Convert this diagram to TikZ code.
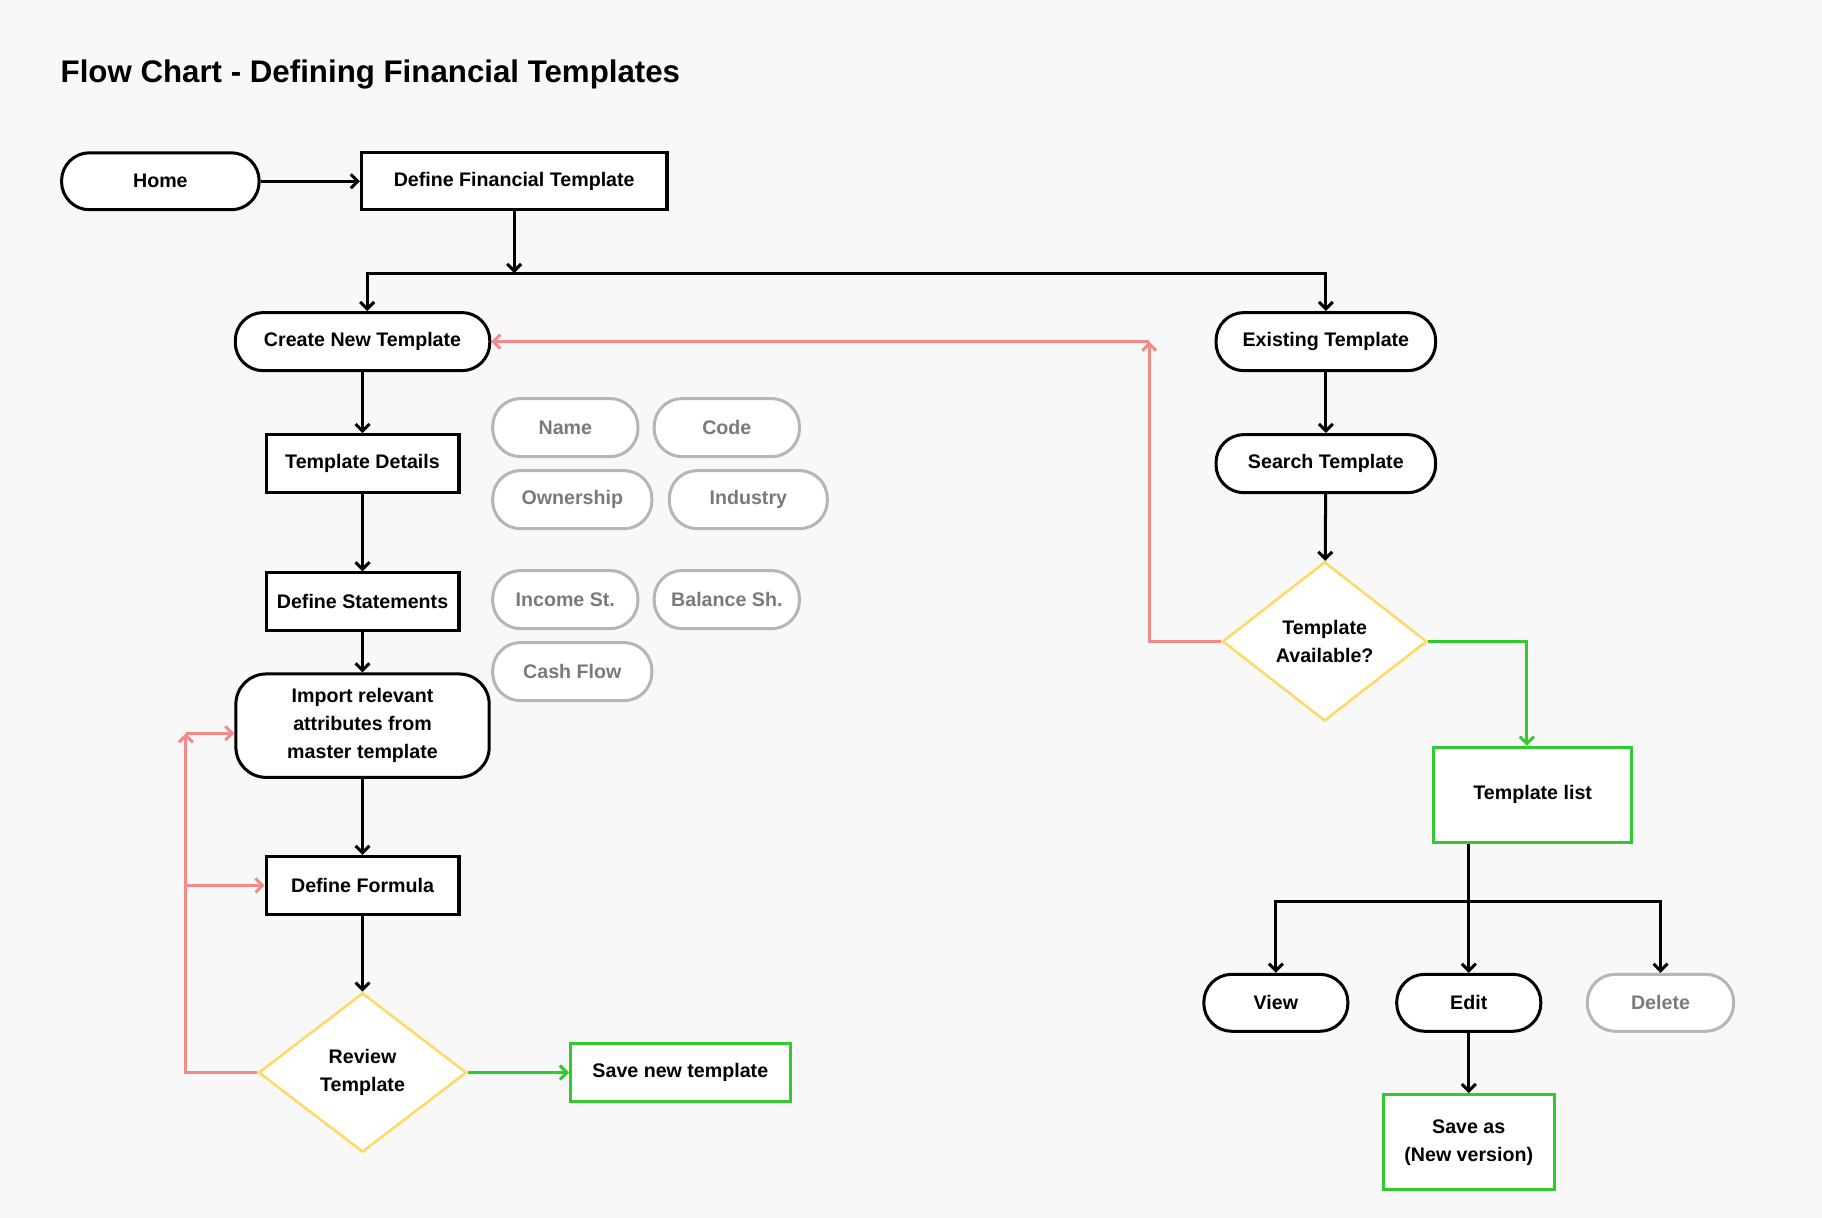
\documentclass[tikz,border=0pt]{standalone}
\usepackage{fontspec}
\setmainfont{Liberation Sans}
\usetikzlibrary{shapes.geometric,arrows.meta}
\definecolor{bg}{RGB}{248,248,248}
\definecolor{loopred}{RGB}{243,138,138}
\definecolor{okgreen}{RGB}{46,204,46}
\definecolor{askyellow}{RGB}{255,217,102}
\definecolor{taggray}{RGB}{182,182,182}
\definecolor{tagtext}{RGB}{122,122,122}
\begin{document}
\begin{tikzpicture}[x=1pt,y=-1pt,
	>={Straight Barb[length=6pt,width=12pt]},
	every node/.style={font=\fontsize{16.9}{24}\selectfont\bfseries, inner sep=0pt, align=center},
	box/.style={draw, line width=2.6pt, fill=white, minimum height=50pt},
	pill/.style={box, rounded corners=24pt},
	okbox/.style={box, draw=okgreen},
	tag/.style={pill, draw=taggray, text=tagtext},
	decision/.style={diamond, draw=askyellow, line width=2.2pt, fill=white, minimum height=137pt},
	flow/.style={line width=2.6pt},
	redflow/.style={line width=2.6pt, draw=loopred},
	greenflow/.style={line width=2.6pt, draw=okgreen}]
			\fill[bg] (0,0) rectangle (1568,1048);
			\node	(title) at (52,64) [anchor=west, font=\fontsize{26.9}{32}\selectfont\bfseries] {Flow Chart - Defining Financial Templates};
			\node	(home) at (138,156) [pill, minimum width=170pt, minimum height=49pt] {Home};
			\node	(dft) at (442.5,156) [box, minimum width=263pt, minimum height=49pt] {Define Financial Template};
			\node	(create) at (312,294) [pill, minimum width=219pt] {Create New Template};
			\node	(details) at (312,399) [box, minimum width=166pt] {Template Details};
			\node	(stmts) at (312,518) [box, minimum width=166pt] {Define Statements};
			\node	(import) at (312,624.5) [box, rounded corners=26pt, minimum width=218pt, minimum height=89pt] {Import relevant\\attributes from\\master template};
			\node	(formula) at (312,762) [box, minimum width=166pt] {Define Formula};
			\node	(review) at (312,923) [decision, minimum width=179pt] {Review\\Template};
			\node	(savenew) at (585.5,923) [okbox, minimum width=189pt] {Save new template};
			\node	(name) at (486.5,368) [tag, minimum width=125pt] {Name};
			\node	(code) at (625.5,368) [tag, minimum width=125pt] {Code};
			\node	(owner) at (492.5,430) [tag, minimum width=137pt] {Ownership};
			\node	(industry) at (644,430) [tag, minimum width=136pt] {Industry};
			\node	(income) at (486.5,516) [tag, minimum width=125pt] {Income St.};
			\node	(balance) at (625.5,516) [tag, minimum width=125pt] {Balance Sh.};
			\node	(cash) at (492.5,578) [tag, minimum width=137pt] {Cash Flow};
			\node	(exist) at (1141,294) [pill, minimum width=189pt] {Existing Template};
			\node	(search) at (1141,399) [pill, minimum width=189pt] {Search Template};
			\node	(avail) at (1140,552) [decision, minimum width=176pt] {Template\\Available?};
			\node	(tlist) at (1319,684) [okbox, minimum width=170pt, minimum height=82pt] {Template list};
			\node	(view) at (1098,863) [pill, minimum width=124pt, minimum height=49pt] {View};
			\node	(edit) at (1264,863) [pill, minimum width=124pt, minimum height=49pt] {Edit};
			\node	(delete) at (1429,863) [tag, minimum width=126pt, minimum height=49pt] {Delete};
			\node	(saveas) at (1264,983) [okbox, minimum width=147pt, minimum height=82pt] {Save as\\(New version)};
			\coordinate (split) at (442.5,235);
			\coordinate (fork) at (1264,776);
			\coordinate (backup) at (989,294);
			\coordinate (loopin) at (160,631);
			\coordinate (loopf) at (160,762);
			\draw[flow]
			(home) edge[->] (dft)
			(dft) edge[->] (split)
			(create) edge[->] (details)
			(details) edge[->] (stmts)
			(stmts) edge[->] (import)
			(import) edge[->] (formula)
			(formula) edge[->] (review)
			(exist) edge[->] (search)
			(search) edge[->] (avail)
			(tlist.south -| edit) edge[->] (edit)
			(edit) edge[->] (saveas)
			;
			\draw[flow,->] (split) -| ([xshift=4pt]create.north);
			\draw[flow,->] (split) -| (exist.north);
			\draw[flow,->] (fork) -| (view.north);
			\draw[flow,->] (fork) -| (delete.north);
			\draw[redflow,->] (avail.west) -| (backup);
			\draw[redflow,->] (backup) -- (create.east);
			\draw[redflow,->] (review.west) -| (loopin);
			\draw[redflow,->] (loopin) -- (loopin -| import.west);
			\draw[redflow,->] (loopf) -- (formula.west);
			\draw[greenflow,->] (avail.east) -| ([xshift=-5pt]tlist.north);
			\draw[greenflow,->] (review) -- (savenew);
		\end{tikzpicture}
\end{document}
